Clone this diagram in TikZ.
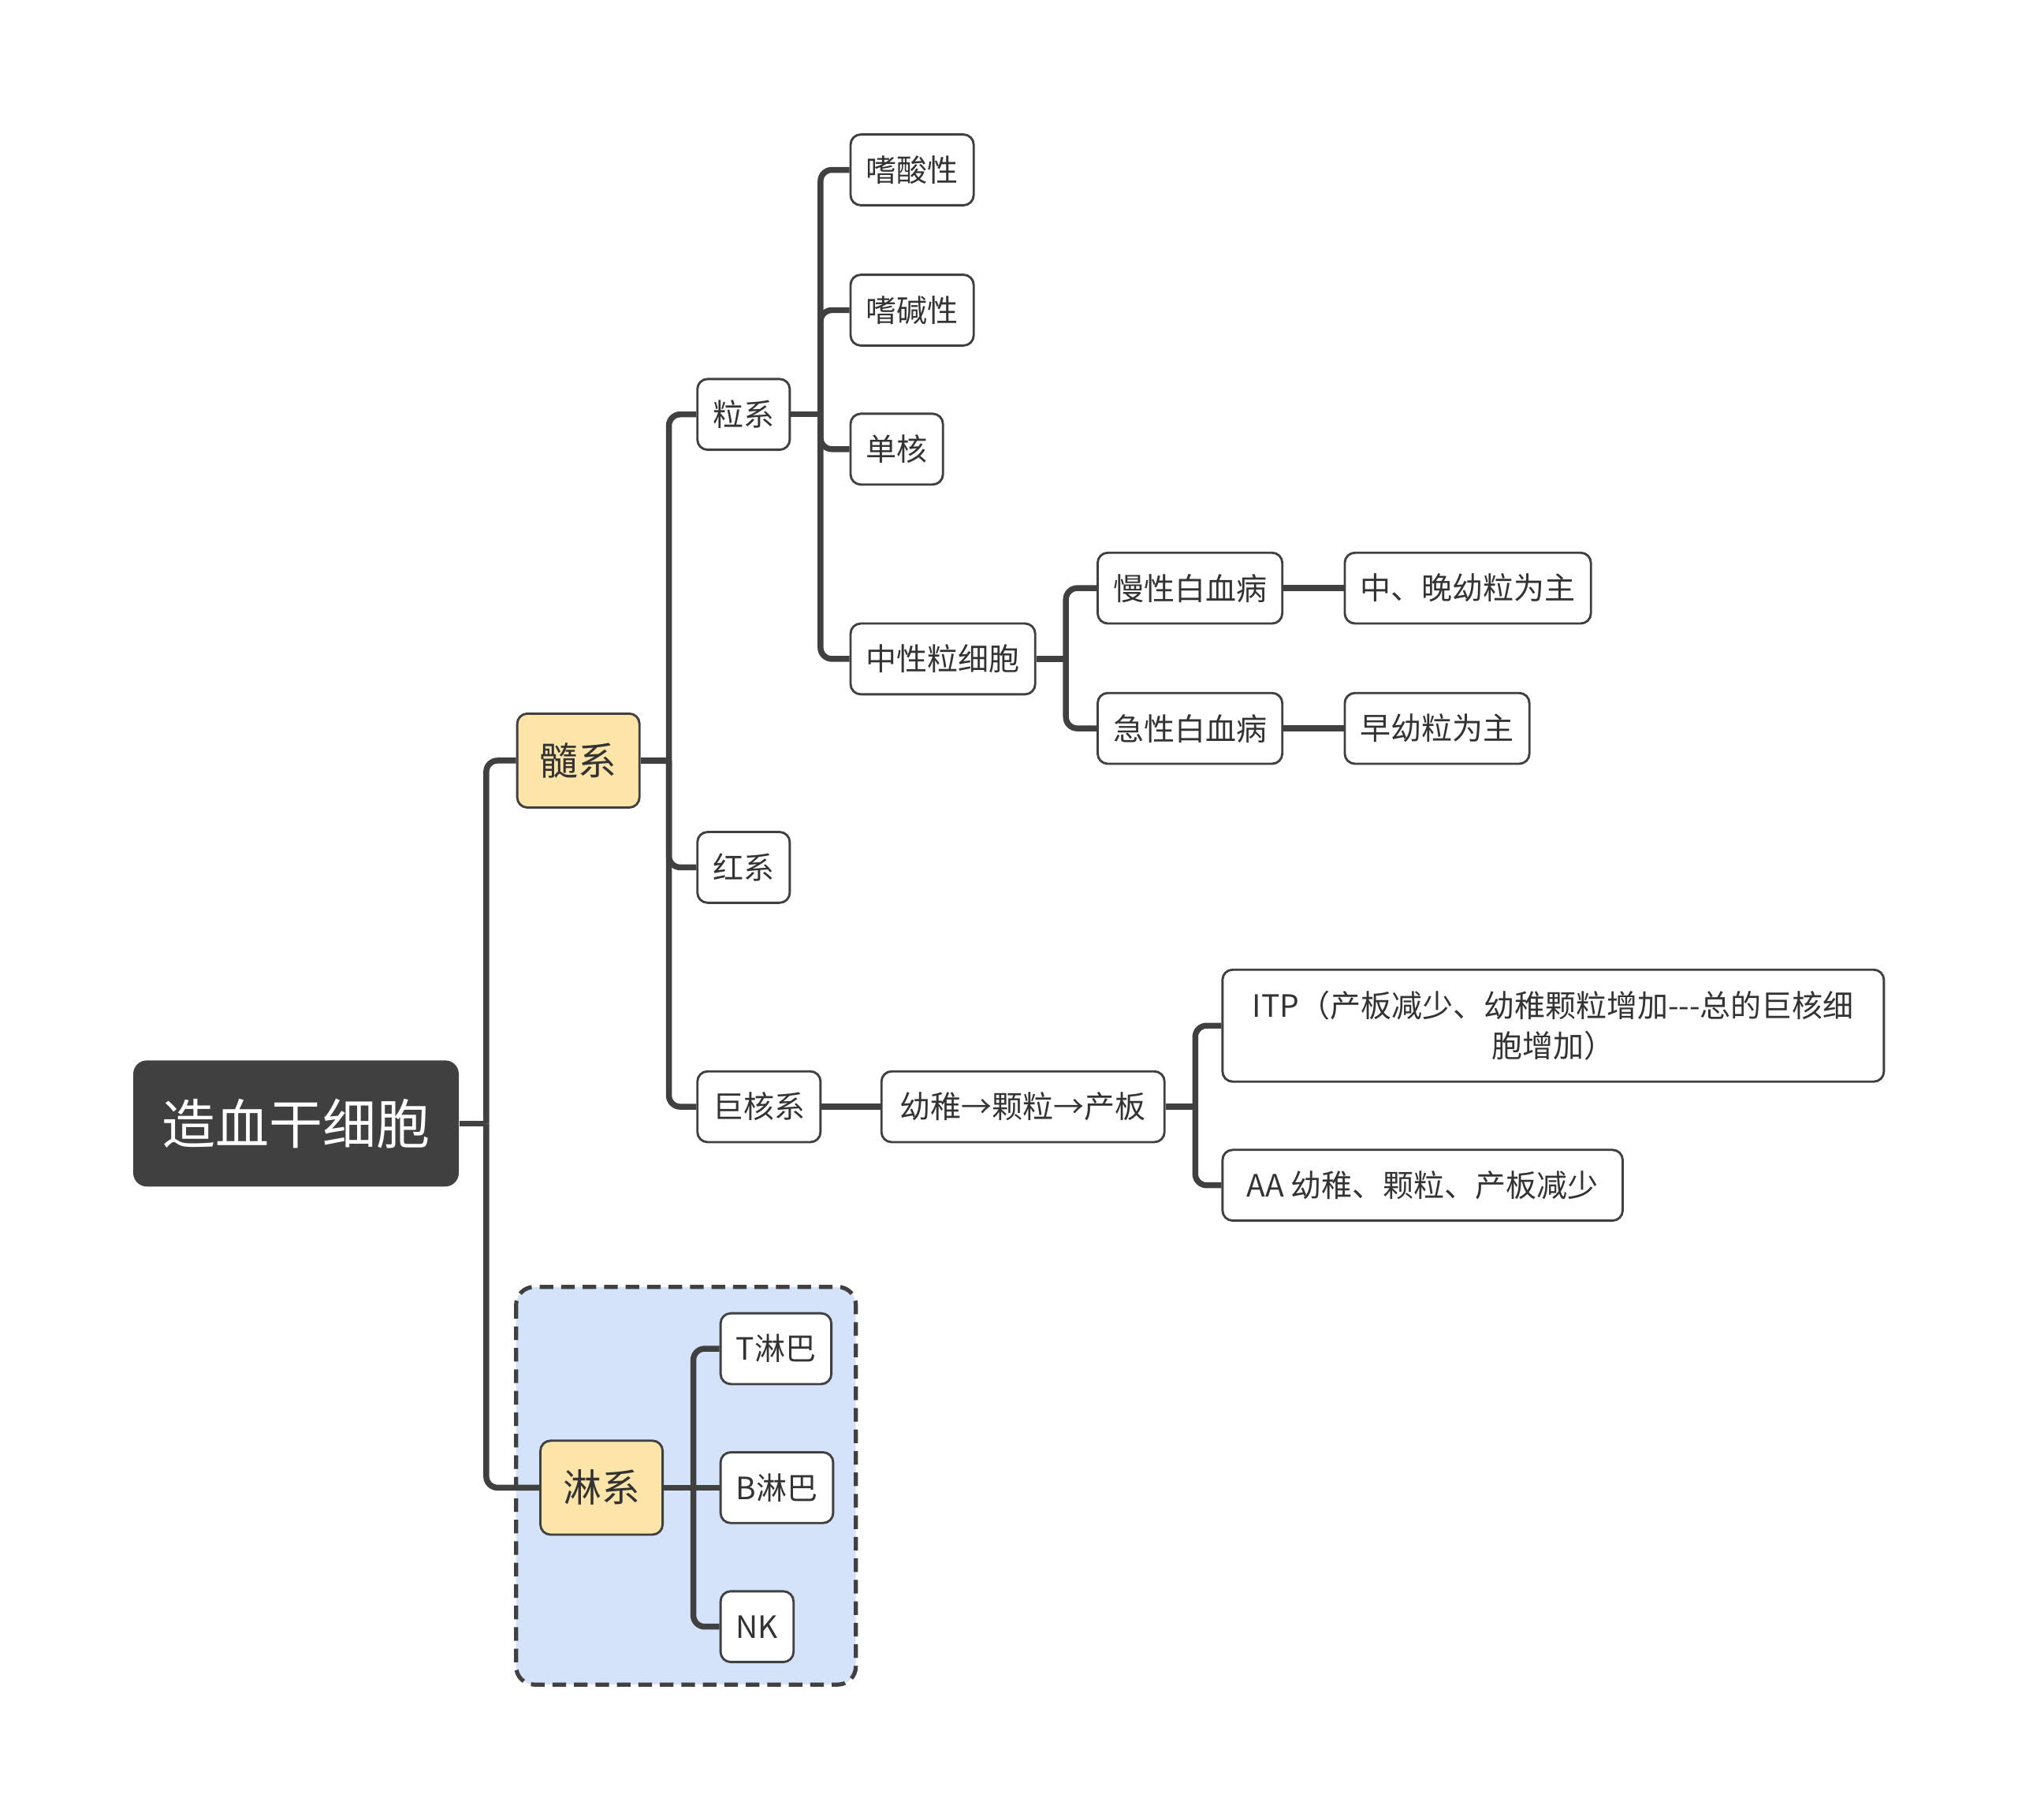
\documentclass[tikz,border=0pt]{standalone}
\usepackage{fontspec}
\usetikzlibrary{calc,positioning}
\newfontfamily\cjk{Noto Sans CJK SC}
\definecolor{ink}{HTML}{404040}
\definecolor{cream}{HTML}{FDE4A8}
\definecolor{sky}{HTML}{D4E3FA}
\definecolor{txt}{HTML}{333333}
\tikzset{
  leaf/.style={draw=ink,line width=1pt,fill=white,rounded corners=4.5pt,minimum height=1.1cm,
    inner xsep=0.24cm,anchor=west,text=txt,font=\cjk\fontsize{13.6}{17.6}\selectfont},
  mid/.style={leaf,fill=cream,minimum height=1.46cm,minimum width=1.9cm,font=\cjk\fontsize{17}{20}\selectfont},
  top/.style={fill=ink,rounded corners=6pt,minimum width=5.06cm,minimum height=1.96cm,
    text=white,font=\cjk\fontsize{23.7}{28}\selectfont},
  link/.style={draw=ink,line width=2.6pt,rounded corners=5pt},
  group/.style={draw=ink,fill=sky,line width=1.8pt,dash pattern=on 6pt off 3.5pt,rounded corners=8pt}
}
\newcommand{\fork}[3]{\draw[link] (#1.east) -- ($(#1.east)+(#2,0)$) coordinate (#1j);
  \foreach \c in {#3}{\draw[link] (#1j) |- (\c.west);}}

\begin{document}
\begin{tikzpicture}[x=0.02cm,y=-0.02cm]
\useasboundingbox (0,0) rectangle (1568,1414);
\draw[group] (401,1000) rectangle (665,1309);
\node[top] (root) at (230,873) {造血干细胞};
\node[mid] (sui) at (401,591) {髓系};\node[mid] (lin) at (419,1156) {淋系};
\node[leaf] (li) at (541,322) {粒系};\node[leaf] (hong) at (541,674) {红系};\node[leaf] (ju) at (541,860) {巨核系};
\node[leaf] (ss) at (660,132) {嗜酸性};\node[leaf] (sj) at (660,241) {嗜碱性};
\node[leaf] (dh) at (660,349) {单核};\node[leaf] (zx) at (660,512) {中性粒细胞};
\node[leaf] (mx) at (852,457) {慢性白血病};\node[leaf] (jx) at (852,566) {急性白血病};
\node[leaf] (zw) at (1044,457) {中、晚幼粒为主};\node[leaf] (zy) at (1044,566) {早幼粒为主};
\node[leaf,minimum width=4.4cm] (yz) at (684,860) {幼稚→颗粒→产板};
\node[leaf,minimum width=10.28cm,minimum height=1.74cm,align=center] (itp) at (949,797) {ITP（产板减少、幼稚颗粒增加---总的巨核细\\胞增加）};
\node[leaf,minimum width=6.22cm] (aa) at (949,921) {AA 幼稚、颗粒、产板减少};
\node[leaf] (tl) at (559,1048) {T淋巴};\node[leaf] (bl) at (559,1156) {B淋巴};\node[leaf] (nk) at (559,1264) {NK};
\fork{root}{21}{sui,lin}
\fork{sui}{22}{li,hong,ju}
\fork{li}{23}{ss,sj,dh,zx}
\fork{zx}{23}{mx,jx}
\fork{yz}{23}{itp,aa}
\fork{lin}{23}{tl,nk}
\draw[link] (linj) -- (bl);
\draw[link] (mx) -- (zw);\draw[link] (jx) -- (zy);\draw[link] (ju) -- (yz);
\end{tikzpicture}
\end{document}
